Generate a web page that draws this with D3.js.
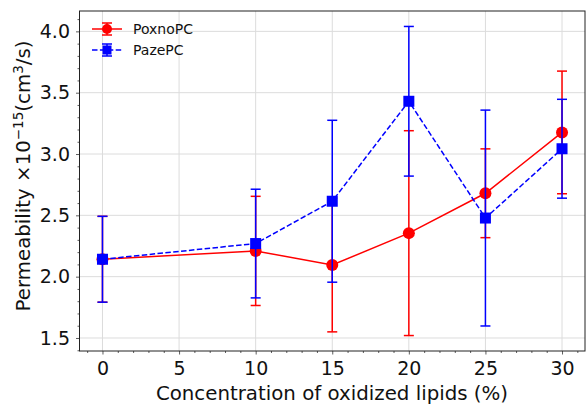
<!DOCTYPE html>
<html><head><meta charset="utf-8">
<script src="https://cdn.jsdelivr.net/npm/d3@7"></script>
<style>body{margin:0;background:#fff}svg{display:block}text{font-family:"DejaVu Sans",sans-serif}</style>
</head><body><svg id="c" width="587" height="405"></svg>
<script>
const concentrations = [0, 10, 15, 20, 25, 30];
const poxnoMean = [2.142, 2.21, 2.095, 2.355, 2.68, 3.176];
const poxnoErr  = [0.35, 0.445, 0.545, 0.835, 0.362, 0.50];
const pazeMean  = [2.142, 2.27, 2.615, 3.43, 2.478, 3.043];
const pazeErr   = [0.35, 0.443, 0.66, 0.61, 0.88, 0.403];
const xTicks = [0, 5, 10, 15, 20, 25, 30];
const yTicks = [1.5, 2.0, 2.5, 3.0, 3.5, 4.0];
const seriesNames = ["PoxnoPC", "PazePC"];

const svg = d3.select("#c");
const L = 79.5, R = 585, T = 11, B = 351;
const x = d3.scaleLinear().domain([-1.5, 31.5]).range([L, R]);
const y = d3.scaleLinear().domain([1.394, 4.166]).range([B, T]);
const FS = 19;
const LFS = 19.8;

// grid
svg.append("g").selectAll("line").data(xTicks).join("line")
  .attr("x1", d => x(d)).attr("x2", d => x(d)).attr("y1", T).attr("y2", B)
  .attr("stroke", "#dcdcdc").attr("stroke-width", 1);
svg.append("g").selectAll("line").data(yTicks).join("line")
  .attr("y1", d => y(d)).attr("y2", d => y(d)).attr("x1", L).attr("x2", R)
  .attr("stroke", "#dcdcdc").attr("stroke-width", 1);

// axes
const xAxis = d3.axisBottom(x).tickValues(xTicks).tickFormat(d3.format("d")).tickSize(3.5).tickPadding(7);
const xMinor = d3.axisBottom(x).tickValues(d3.range(-1, 32, 1).filter(v => v % 5 !== 0)).tickSize(2).tickFormat("");
const yAxis = d3.axisLeft(y).tickValues(yTicks).tickFormat(d3.format(".1f")).tickSize(3.5).tickPadding(6);
const yMinor = d3.axisLeft(y).tickValues(d3.range(14, 42, 1).map(v => v / 10).filter(v => Math.round(v * 10) % 5 !== 0)).tickSize(2).tickFormat("");

function styleAxis(g) {
  g.select(".domain").remove();
  g.selectAll("line").attr("stroke", "#333").attr("stroke-width", 0.8);
  g.selectAll("text").attr("font-size", FS).attr("fill", "#111").attr("font-family", "DejaVu Sans");
}
svg.append("g").attr("transform", `translate(0,${B})`).call(xAxis).call(styleAxis);
svg.append("g").attr("transform", `translate(0,${B})`).call(xMinor).call(styleAxis);
svg.append("g").attr("transform", `translate(${L},0)`).call(yAxis).call(styleAxis);
svg.append("g").attr("transform", `translate(${L},0)`).call(yMinor).call(styleAxis);

// frame
svg.append("rect").attr("x", L).attr("y", T).attr("width", R - L).attr("height", B - T)
  .attr("fill", "none").attr("stroke", "#222").attr("stroke-width", 1);

// labels
svg.append("text").attr("x", 332).attr("y", 400).attr("text-anchor", "middle")
  .attr("font-size", LFS).attr("fill", "#111").text("Concentration of oxidized lipids (%)");
const yl = svg.append("text").attr("transform", `translate(30,176) rotate(-90)`)
  .attr("text-anchor", "middle").attr("font-size", LFS).attr("fill", "#111");
yl.append("tspan").text("Permeability ×10");
yl.append("tspan").attr("dy", -7).attr("font-size", 13.5).text("−15");
yl.append("tspan").attr("dy", 7).text("(cm");
yl.append("tspan").attr("dy", -7).attr("font-size", 13.5).text("3");
yl.append("tspan").attr("dy", 7).text("/s)");

function drawSeries(means, errs, color, dashed, marker) {
  const g = svg.append("g");
  const pts = concentrations.map((c, i) => ({ c, m: means[i], e: errs[i] }));
  pts.forEach(p => {
    g.append("line").attr("x1", x(p.c)).attr("x2", x(p.c)).attr("y1", y(p.m - p.e)).attr("y2", y(p.m + p.e))
      .attr("stroke", color).attr("stroke-width", 1.5);
    [p.m - p.e, p.m + p.e].forEach(v => g.append("line").attr("x1", x(p.c) - 5).attr("x2", x(p.c) + 5)
      .attr("y1", y(v)).attr("y2", y(v)).attr("stroke", color).attr("stroke-width", 1.5));
  });
  const line = d3.line().x(p => x(p.c)).y(p => y(p.m));
  g.append("path").attr("d", line(pts)).attr("fill", "none").attr("stroke", color).attr("stroke-width", 1.5)
    .attr("stroke-dasharray", dashed ? "5.5,2.4" : null);
  pts.forEach(p => {
    if (marker === "circle") g.append("circle").attr("cx", x(p.c)).attr("cy", y(p.m)).attr("r", 6).attr("fill", color);
    else g.append("rect").attr("x", x(p.c) - 5.5).attr("y", y(p.m) - 5.5).attr("width", 11).attr("height", 11).attr("fill", color);
  });
}
drawSeries(poxnoMean, poxnoErr, "#ff0000", false, "circle");
drawSeries(pazeMean, pazeErr, "#0000ff", true, "square");

// legend
const lg = svg.append("g");
[["#ff0000", false, "circle", 29], ["#0000ff", true, "square", 50]].forEach(([col, dash, mk, ly], i) => {
  lg.append("line").attr("x1", 92).attr("x2", 122).attr("y1", ly).attr("y2", ly).attr("stroke", col)
    .attr("stroke-width", 1.5).attr("stroke-dasharray", dash ? "5.5,2.4" : null);
  lg.append("line").attr("x1", 107).attr("x2", 107).attr("y1", ly - 6).attr("y2", ly + 6).attr("stroke", col).attr("stroke-width", 1.5);
  [ly - 6, ly + 6].forEach(v => lg.append("line").attr("x1", 102).attr("x2", 112).attr("y1", v).attr("y2", v).attr("stroke", col).attr("stroke-width", 1.5));
  if (mk === "circle") lg.append("circle").attr("cx", 107).attr("cy", ly).attr("r", 5).attr("fill", col);
  else lg.append("rect").attr("x", 102.5).attr("y", ly - 4.5).attr("width", 9).attr("height", 9).attr("fill", col);
  lg.append("text").attr("x", 133).attr("y", ly + 5).attr("font-size", 14).attr("fill", "#111").text(seriesNames[i]);
});
</script></body></html>
